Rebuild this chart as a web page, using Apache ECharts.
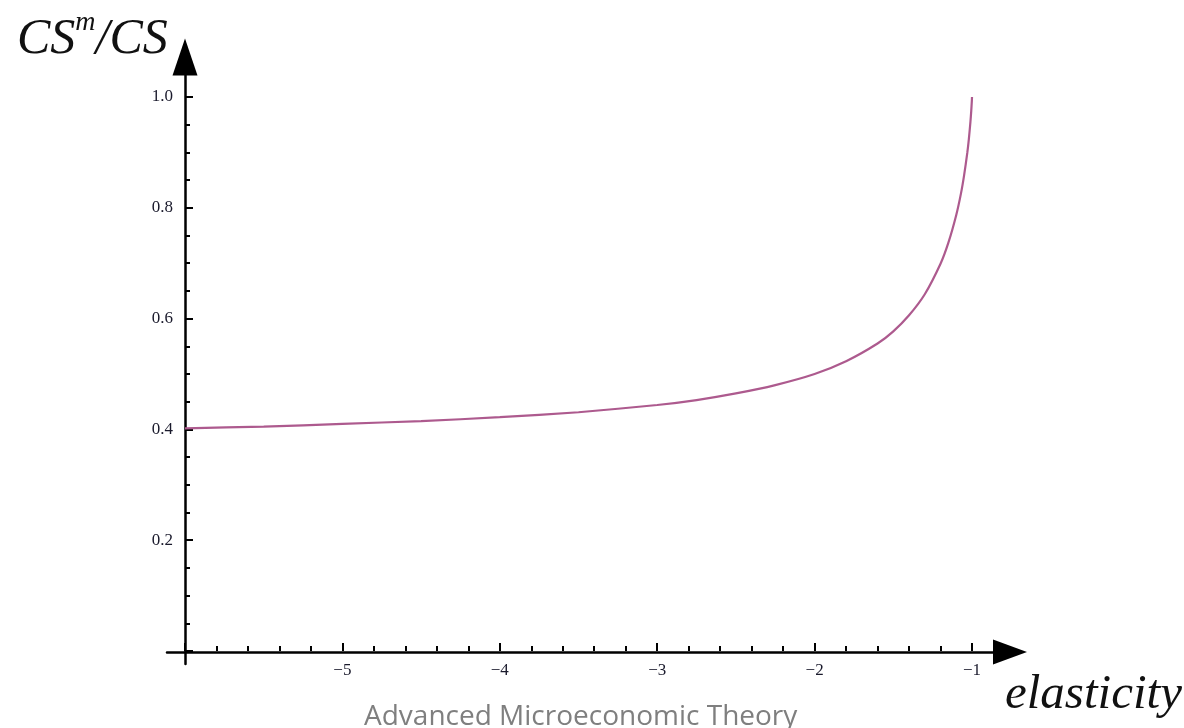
<!DOCTYPE html>
<html>
<head>
<meta charset="utf-8">
<script src="https://cdn.jsdelivr.net/npm/echarts@6/dist/echarts.min.js"></script>
<style>
html,body{margin:0;padding:0;background:#fff;}
#chart{width:1184px;height:728px;}
</style>
</head>
<body>
<div id="chart"></div>
<script>
// Values
const elasticity = [-6, -5.5, -5, -4.5, -4, -3.5, -3, -2.75, -2.5, -2.25, -2, -1.8, -1.6, -1.5, -1.4, -1.3, -1.2, -1.15, -1.1, -1.07, -1.05, -1.03, -1.02, -1.01, -1.005, -1.001, -1];
const ratio = [0.402, 0.405, 0.410, 0.415, 0.422, 0.431, 0.444, 0.453, 0.465, 0.480, 0.500, 0.523, 0.555, 0.577, 0.606, 0.644, 0.699, 0.737, 0.787, 0.826, 0.859, 0.899, 0.924, 0.955, 0.974, 0.993, 1.0];
const xTicks = [-6, -5, -4, -3, -2, -1];
const yTicks = [0, 0.2, 0.4, 0.6, 0.8, 1.0];
const xTitle = 'elasticity';
const footer = 'Advanced Microeconomic Theory';

const seriesData = elasticity.map((e, i) => [e, ratio[i]]);
const labelFont = {fontFamily: 'Liberation Serif', fontSize: 17, fontWeight: 'normal', color: '#1a1a2c'};

const chart = echarts.init(document.getElementById('chart'), null, {renderer: 'canvas'});
chart.setOption({
  animation: false,
  backgroundColor: '#ffffff',
  title: [
    {
      text: '{a|CS}{s|m}{a|/CS}',
      left: 12, top: 4,
      textStyle: {
        fontWeight: 'normal',
        rich: {
          a: {fontFamily: 'Liberation Serif', fontStyle: 'italic', fontWeight: 'normal', fontSize: 50, color: '#111111', lineHeight: 56, verticalAlign: 'bottom'},
          s: {fontFamily: 'Liberation Serif', fontStyle: 'italic', fontWeight: 'normal', fontSize: 28, color: '#111111', verticalAlign: 'top', lineHeight: 28}
        }
      }
    },
    {
      text: xTitle,
      left: 1000, top: 666,
      textStyle: {fontFamily: 'Liberation Serif', fontStyle: 'italic', fontWeight: 'normal', fontSize: 49, color: '#111111'}
    },
    {
      text: footer,
      left: 359, top: 698,
      textStyle: {fontFamily: 'Open Sans', fontWeight: 'normal', fontSize: 28, color: '#7f7f7f'}
    }
  ],
  grid: [
    {left: 185, top: 97, width: 787, height: 554},
    {left: 167, top: 97, width: 843, height: 555},
    {left: 185, top: 57, width: 787, height: 607}
  ],
  xAxis: [
    {
      gridIndex: 0, type: 'value', min: xTicks[0], max: xTicks[xTicks.length - 1], interval: 1,
      axisLine: {show: false},
      axisTick: {show: true, inside: true, length: 8, lineStyle: {color: '#000', width: 2}},
      minorTick: {show: true, splitNumber: 5, length: 5, lineStyle: {color: '#000', width: 2}},
      splitLine: {show: false},
      axisLabel: Object.assign({margin: 11, formatter: v => (v === xTicks[0] ? '' : '\u2212' + Math.abs(v))}, labelFont)
    },
    {
      gridIndex: 1, type: 'value', min: 0, max: 1,
      axisLine: {show: true, onZero: false, symbol: ['none', 'triangle'], symbolSize: [25, 34], lineStyle: {color: '#000', width: 2.5}},
      axisTick: {show: false}, axisLabel: {show: false}, splitLine: {show: false}
    },
    {
      gridIndex: 2, type: 'value', min: 0, max: 1, show: false
    }
  ],
  yAxis: [
    {
      gridIndex: 0, type: 'value', min: yTicks[0], max: yTicks[yTicks.length - 1], interval: 0.2,
      axisLine: {show: false},
      axisTick: {show: true, inside: true, length: 8, lineStyle: {color: '#000', width: 2}},
      minorTick: {show: true, splitNumber: 4, length: 5, lineStyle: {color: '#000', width: 2}},
      splitLine: {show: false},
      axisLabel: Object.assign({margin: 12, formatter: v => (v === yTicks[0] ? '' : v.toFixed(1))}, labelFont)
    },
    {
      gridIndex: 1, type: 'value', min: 0, max: 1, show: false
    },
    {
      gridIndex: 2, type: 'value', min: 0, max: 1,
      axisLine: {show: true, onZero: false, symbol: ['none', 'triangle'], symbolSize: [25, 37], lineStyle: {color: '#000', width: 2.5}},
      axisTick: {show: false}, axisLabel: {show: false}, splitLine: {show: false}
    }
  ],
  series: [
    {
      type: 'line', xAxisIndex: 0, yAxisIndex: 0,
      data: seriesData,
      smooth: 0.2,
      showSymbol: false,
      lineStyle: {color: '#ad5a8e', width: 2.2},
      z: 5
    }
  ]
});
</script>
</body>
</html>
